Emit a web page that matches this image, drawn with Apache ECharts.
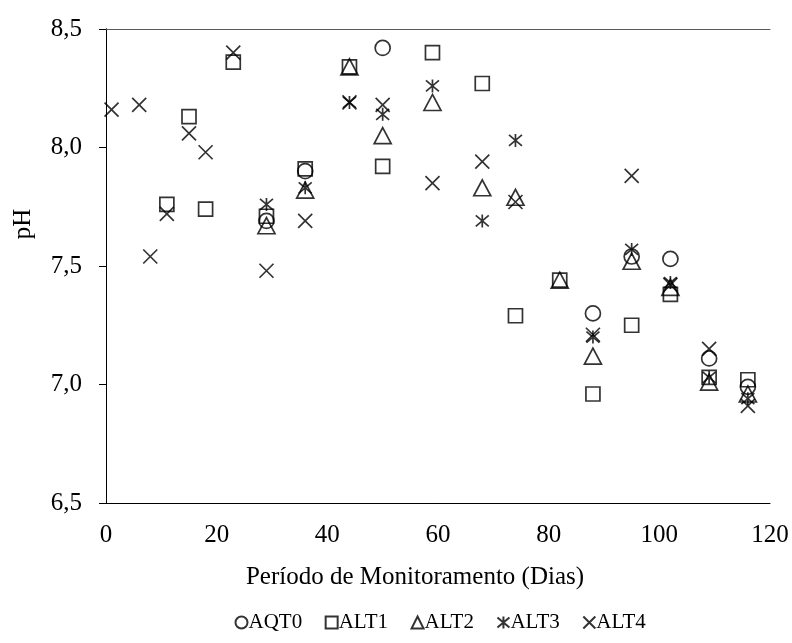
<!DOCTYPE html>
<html>
<head>
    <meta charset="utf-8">
    <title>pH</title>
    <script src="https://cdn.jsdelivr.net/npm/echarts@6/dist/echarts.min.js"></script>
</head>
<body style="margin:0;background:#fff">
    <div id="main" style="width: 792px;height:643px;"></div>
</body>
</html>

<script type="text/javascript">
    // valores: [dia, pH]
    var AQT0 = [[29, 7.69], [36, 7.90], [50, 8.42], [88, 7.30], [95, 7.54], [102, 7.53], [109, 7.11], [116, 6.99]];
    var ALT1 = [[11, 7.76], [15, 8.13], [18, 7.74], [23, 8.36], [29, 7.71], [36, 7.91], [44, 8.34], [50, 7.92], [59, 8.40],
        [68, 8.27], [74, 7.29], [82, 7.44], [88, 6.96], [95, 7.25], [102, 7.38], [109, 7.03], [116, 7.02]];
    var ALT2 = [[29, 7.67], [36, 7.82], [44, 8.34], [50, 8.05], [59, 8.19], [68, 7.83], [74, 7.79], [82, 7.44], [88, 7.12],
        [95, 7.52], [102, 7.41], [109, 7.01], [116, 6.96]];
    var ALT3 = [[29, 7.76], [36, 7.83], [44, 8.19], [50, 8.14], [59, 8.26], [68, 7.69], [74, 8.03], [88, 7.20], [95, 7.57],
        [102, 7.43], [109, 7.03], [116, 6.94]];
    var ALT4 = [[1, 8.16], [6, 8.18], [8, 7.54], [11, 7.72], [15, 8.06], [18, 7.98], [23, 8.40], [29, 7.48], [36, 7.69],
        [44, 8.19], [50, 8.18], [59, 7.85], [68, 7.94], [74, 7.77], [88, 7.21], [95, 7.88], [102, 7.42], [109, 7.15], [116, 6.91]];

    var font = 'Liberation Serif, Times New Roman, serif';
    var crossPath = 'path://M0,0L14,14M14,0L0,14';
    var starPath = 'path://M0,1L13,12M13,1L0,12M6.5,0L6.5,13';

    function serie(name, data, symbol, size) {
        return {
            name: name,
            type: 'scatter',
            data: data,
            symbol: symbol,
            symbolSize: size,
            itemStyle: { color: 'none', borderColor: '#000', borderWidth: 1.7 }
        };
    }

    var myChart = echarts.init(document.getElementById('main'));

    var option = {
        backgroundColor: '#fff',
        animation: false,
        textStyle: { fontFamily: font, color: '#000' },
        grid: { left: 106, right: 22, top: 29, bottom: 140 },
        legend: {
            bottom: 5,
            left: 228,
            itemWidth: 12,
            itemHeight: 12,
            itemGap: 21,
            textStyle: { fontFamily: font, fontSize: 21, color: '#000', padding: [0, 0, 0, -4] },
            data: ['AQT0', 'ALT1', 'ALT2', 'ALT3', 'ALT4']
        },
        xAxis: [{
            type: 'value', min: 0, max: 120, interval: 20,
            name: 'Período de Monitoramento (Dias)',
            nameLocation: 'middle', nameGap: 62,
            nameTextStyle: { fontFamily: font, fontSize: 25, color: '#000', padding: [0, 46, 0, 0] },
            axisLine: { lineStyle: { color: '#000', width: 1 } },
            axisTick: { show: false },
            splitLine: { show: false },
            axisLabel: { fontFamily: font, fontSize: 25, color: '#000', margin: 20 }
        }, {
            type: 'value', position: 'top', min: 0, max: 120,
            axisLine: { lineStyle: { color: '#5a5a5a', width: 1 } },
            axisTick: { show: false }, axisLabel: { show: false }, splitLine: { show: false }
        }],
        yAxis: [{
            type: 'value', min: 6.5, max: 8.5, interval: 0.5,
            name: 'pH',
            nameLocation: 'middle', nameGap: 70,
            nameTextStyle: { fontFamily: font, fontSize: 25, color: '#000', padding: [0, 0, 0, 84] },
            axisLine: { show: true, lineStyle: { color: '#000', width: 1 } },
            axisTick: { show: true, inside: false, length: 7, lineStyle: { color: '#000' } },
            splitLine: { show: false },
            axisLabel: {
                fontFamily: font, fontSize: 25, color: '#000', margin: 24,
                formatter: function (v) { return v.toFixed(1).replace('.', ','); }
            }
        }, {
            type: 'value', position: 'right', min: 6.5, max: 8.5,
            axisLine: { show: true, lineStyle: { color: '#000', width: 1 } },
            axisTick: { show: false }, axisLabel: { show: false }, splitLine: { show: false }
        }],
        series: [
            serie('AQT0', AQT0, 'circle', 15),
            serie('ALT1', ALT1, 'rect', 14),
            serie('ALT2', ALT2, 'triangle', [17, 16]),
            serie('ALT3', ALT3, starPath, 13),
            serie('ALT4', ALT4, crossPath, 14)
        ]
    };

    myChart.setOption(option);
</script>
